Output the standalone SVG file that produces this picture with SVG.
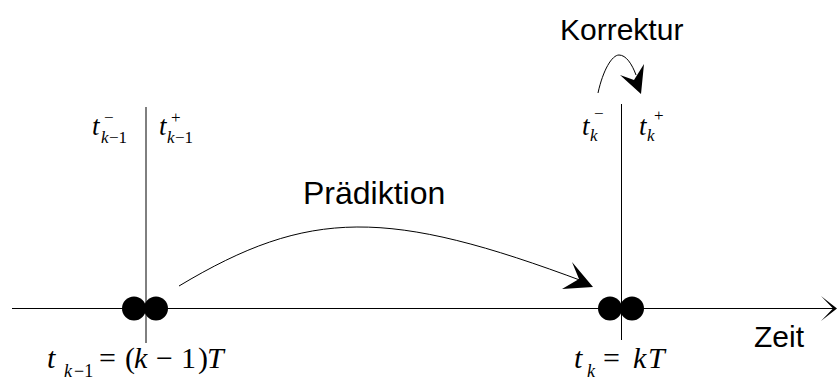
<svg xmlns="http://www.w3.org/2000/svg" width="837" height="383" viewBox="0 0 837 383">
<style>
.ln{stroke:#000;stroke-width:1;fill:none}
.lbl{font-family:"Liberation Sans",Arial,sans-serif;font-size:30px;fill:#000}
.m{font-family:"Liberation Serif","Times New Roman",serif;font-style:italic;font-size:27px;fill:#000}
.ms{font-family:"Liberation Serif","Times New Roman",serif;font-style:italic;font-size:17px;fill:#000}
.mus{font-family:"Liberation Serif","Times New Roman",serif;font-size:17px;fill:#000}
.b{font-family:"Liberation Serif","Times New Roman",serif;font-style:italic;font-size:30px;fill:#000}
.bu{font-family:"Liberation Serif","Times New Roman",serif;font-size:30px;fill:#000}
.bs{font-family:"Liberation Serif","Times New Roman",serif;font-style:italic;font-size:18px;fill:#000}
.bus{font-family:"Liberation Serif","Times New Roman",serif;font-size:18px;fill:#000}
.dot{fill:#000}
</style>
<rect width="837" height="383" fill="#fff"/>
<g id="axis">
<line class="ln" x1="12" y1="308.5" x2="834" y2="308.5"/>
<path d="M821,296 L837,308.5 L821,321 L833,308.5 Z" fill="#000"/>
<text class="lbl" x="754" y="347">Zeit</text>
</g>
<g id="node-k-1">
<line class="ln" x1="146" y1="107" x2="146" y2="343"/>
<circle class="dot" cx="134" cy="308.5" r="12"/>
<circle class="dot" cx="156" cy="308.5" r="12"/>
<text class="m" x="92" y="135">t</text><text class="ms" x="101" y="143">k</text><text class="mus" x="109" y="143">−1</text><text class="mus" x="104" y="123">−</text>
<text class="m" x="159" y="135">t</text><text class="ms" x="167" y="143">k</text><text class="mus" x="175" y="143">−1</text><text class="mus" x="171" y="123">+</text>
<text class="b" x="47" y="368">t</text><text class="bs" x="64" y="377">k</text><text class="bus" x="74" y="377">−1</text>
<text class="bu" x="99" y="368">=</text>
<text class="bu" x="125" y="368">(</text><text class="b" x="134" y="368">k</text><text class="bu" x="156" y="368">−</text><text class="bu" x="181" y="368">1</text><text class="bu" x="198" y="368">)</text><text class="b" x="207" y="368">T</text>
</g>
<g id="node-k">
<line class="ln" x1="621.5" y1="104" x2="621.5" y2="340"/>
<circle class="dot" cx="610" cy="308.5" r="12"/>
<circle class="dot" cx="632" cy="308.5" r="12"/>
<text class="m" x="582" y="135">t</text><text class="ms" x="590" y="141">k</text><text class="mus" x="594" y="119">−</text>
<text class="m" x="639" y="135">t</text><text class="ms" x="647" y="141">k</text><text class="mus" x="654" y="121">+</text>
<text class="b" x="574" y="368">t</text><text class="bs" x="587" y="377">k</text>
<text class="bu" x="603" y="368">=</text>
<text class="b" x="633" y="368">k</text><text class="b" x="648" y="368">T</text>
</g>
<g id="connectors">
<path class="ln" d="M179,286 C309,208 388,208 585,282"/>
<path d="M593,287 L572,262 L579,279 L562,289 Z" fill="#000"/>
<text class="lbl" x="303" y="204" style="font-size:32px">Prädiktion</text>
<path class="ln" d="M598,93 C603,70 612,55 619,55 C626,55 632,64 636,75"/>
<path d="M641,94 L620,75 L634,80 L644,64 Z" fill="#000"/>
<text class="lbl" x="560" y="40">Korrektur</text>
</g>
</svg>
